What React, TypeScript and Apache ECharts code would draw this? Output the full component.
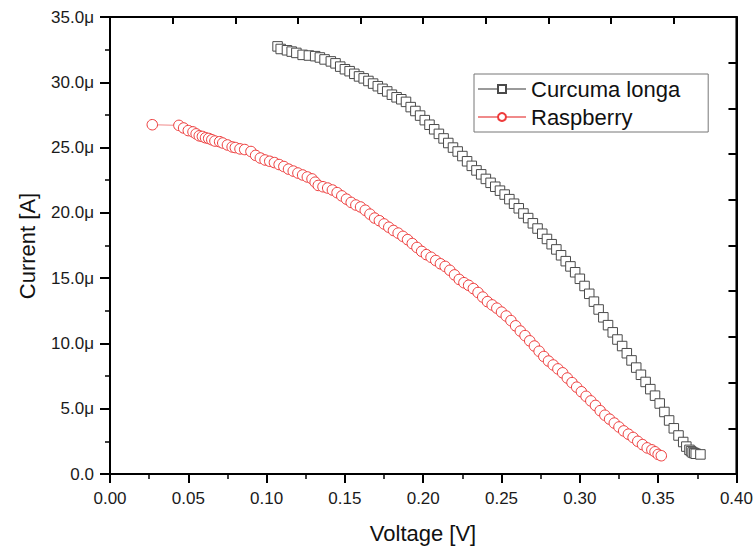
import React, { useEffect, useRef } from "react";
import * as echarts from "echarts";

// Curcuma longa: voltage [V] and current [µA]
const curcumaV = [
  0.107, 0.109, 0.113, 0.116, 0.119, 0.123, 0.127, 0.131, 0.134, 0.137, 0.141, 0.144, 0.147, 0.15,
  0.153, 0.156, 0.159, 0.162, 0.165, 0.168, 0.171, 0.174, 0.177, 0.18, 0.183, 0.186, 0.189, 0.192,
  0.195, 0.198, 0.201, 0.204, 0.207, 0.21, 0.213, 0.216, 0.219, 0.222, 0.225, 0.228, 0.231, 0.234,
  0.237, 0.24, 0.243, 0.246, 0.249, 0.252, 0.255, 0.258, 0.261, 0.264, 0.267, 0.27, 0.273, 0.276,
  0.279, 0.282, 0.285, 0.288, 0.291, 0.294, 0.297, 0.3, 0.303, 0.306, 0.309, 0.312, 0.315, 0.318,
  0.321, 0.324, 0.327, 0.33, 0.333, 0.336, 0.339, 0.342, 0.345, 0.348, 0.351, 0.354, 0.357, 0.36,
  0.363, 0.366, 0.368, 0.37, 0.371, 0.372, 0.373, 0.374, 0.377,
];
const curcumaI = [
  32.75, 32.55, 32.45, 32.35, 32.25, 32.1, 32.05, 32.0, 31.9, 31.75, 31.6, 31.45, 31.2, 31.0,
  30.85, 30.65, 30.45, 30.3, 30.1, 29.9, 29.7, 29.5, 29.3, 29.05, 28.85, 28.7, 28.5, 28.1,
  27.8, 27.45, 27.1, 26.75, 26.4, 26.05, 25.7, 25.35, 25.0, 24.7, 24.35, 23.95, 23.6, 23.25,
  22.95, 22.6, 22.3, 22.0, 21.7, 21.4, 21.05, 20.7, 20.35, 19.95, 19.6, 19.2, 18.8, 18.4,
  18.0, 17.6, 17.2, 16.75, 16.3, 15.9, 15.45, 14.95, 14.4, 13.8, 13.2, 12.6, 12.0, 11.4,
  10.85, 10.3, 9.8, 9.25, 8.7, 8.15, 7.6, 7.05, 6.5, 6.0, 5.4, 4.75, 4.1, 3.5,
  2.95, 2.45, 2.1, 1.85, 1.75, 1.65, 1.6, 1.55, 1.5,
];

// Raspberry: voltage [V] and current [µA]
const raspberryV = [
  0.027, 0.044, 0.047, 0.05, 0.053, 0.055, 0.057, 0.059, 0.061, 0.063, 0.065, 0.067, 0.07, 0.072,
  0.075, 0.078, 0.08, 0.083, 0.086, 0.09, 0.093, 0.096, 0.099, 0.102, 0.105, 0.108, 0.111, 0.114,
  0.117, 0.12, 0.123, 0.126, 0.129, 0.131, 0.133, 0.136, 0.139, 0.142, 0.145, 0.148, 0.151, 0.154,
  0.157, 0.16, 0.163, 0.166, 0.169, 0.172, 0.175, 0.178, 0.181, 0.184, 0.187, 0.19, 0.193, 0.196,
  0.199, 0.202, 0.205, 0.208, 0.211, 0.214, 0.217, 0.22, 0.223, 0.226, 0.229, 0.232, 0.235, 0.238,
  0.241, 0.244, 0.247, 0.25, 0.253, 0.256, 0.259, 0.262, 0.265, 0.268, 0.271, 0.274, 0.277, 0.28,
  0.283, 0.286, 0.289, 0.292, 0.295, 0.298, 0.301, 0.304, 0.307, 0.31, 0.313, 0.316, 0.319, 0.322,
  0.325, 0.328, 0.331, 0.334, 0.337, 0.34, 0.343, 0.346, 0.348, 0.35, 0.352,
];
const raspberryI = [
  26.75, 26.7, 26.5, 26.3, 26.2, 26.05, 25.9, 25.85, 25.75, 25.7, 25.6, 25.5, 25.45, 25.35,
  25.2, 25.05, 25.0, 24.9, 24.85, 24.7, 24.4, 24.2, 24.05, 23.95, 23.85, 23.7, 23.55, 23.35,
  23.2, 23.05, 22.9, 22.75, 22.6, 22.35, 22.1, 22.0, 21.9, 21.75, 21.55, 21.3, 21.05, 20.8,
  20.6, 20.45, 20.2, 19.9, 19.6, 19.4, 19.15, 18.9, 18.65, 18.45, 18.2, 17.95, 17.65, 17.35,
  17.05, 16.8, 16.6, 16.35, 16.1, 15.9, 15.6, 15.25, 14.9, 14.65, 14.45, 14.2, 13.9, 13.55,
  13.2, 12.95, 12.7, 12.4, 12.1, 11.75, 11.35, 10.95, 10.6, 10.2, 9.8, 9.4, 9.0, 8.65,
  8.35, 8.05, 7.75, 7.35, 7.0, 6.65, 6.3, 5.95, 5.6, 5.25, 4.85, 4.5, 4.2, 3.9,
  3.6, 3.3, 3.05, 2.8, 2.5, 2.25, 2.0, 1.85, 1.7, 1.5, 1.4,
];

const seriesNames = ["Curcuma longa", "Raspberry"];
const xTitle = "Voltage [V]";
const yTitle = "Current [A]";
const xTickLabels = (v: number) => v.toFixed(2);
const yTickLabels = (v: number) => (v === 0 ? "0.0" : v.toFixed(1) + "μ");
const FONT = "'Liberation Sans', Arial, sans-serif";

const noLine = () => ({ show: false });
const mkLine = () => ({ show: true, onZero: false, lineStyle: { color: "#000", width: 2 } });
const mkTick = (inside: boolean, length: number, width: number) => ({
  show: true,
  inside,
  length,
  lineStyle: { color: "#000", width },
});

export default function App() {
  const ref = useRef<HTMLDivElement>(null);
  useEffect(() => {
    document.body.style.margin = "0";
    if (!ref.current) return;
    const chart = echarts.init(ref.current, undefined, { renderer: "svg" });
    chart.setOption({
      animation: false,
      backgroundColor: "#fff",
      grid: { left: 110, right: 19, top: 17, bottom: 75, show: true, borderColor: "#000", borderWidth: 2, backgroundColor: "transparent" },
      graphic: [
        {
          type: "text",
          x: 423,
          y: 533,
          style: { text: xTitle, fontSize: 22, fontFamily: FONT, fill: "#111", align: "center", verticalAlign: "middle" },
        },
        {
          type: "text",
          x: 27,
          y: 246,
          rotation: Math.PI / 2,
          style: { text: yTitle, fontSize: 22, fontFamily: FONT, fill: "#111", align: "center", verticalAlign: "middle" },
        },
      ],
      legend: {
        orient: "vertical",
        left: 474,
        top: 74,
        padding: [4, 28, 4, 3],
        itemGap: 6,
        itemWidth: 48,
        itemHeight: 10,
        borderColor: "#777",
        borderWidth: 1,
        data: seriesNames,
        textStyle: { fontSize: 22, color: "#111", fontFamily: FONT },
      },
      xAxis: [
        {
          type: "value",
          position: "bottom",
          min: 0,
          max: 0.4,
          interval: 0.05,
          z: 10,
          axisLine: mkLine(),
          axisTick: mkTick(false, 9, 2),
          splitLine: { show: false },
          axisLabel: { margin: 16, fontSize: 17, color: "#1a1a1a", fontFamily: FONT, formatter: xTickLabels },
        },
        {
          type: "value",
          position: "top",
          min: 0,
          max: 0.4,
          interval: 0.04,
          z: 10,
          axisLine: mkLine(),
          axisTick: mkTick(true, 7, 2),
          axisLabel: { show: false },
          splitLine: { show: false },
        },
        {
          type: "value",
          position: "bottom",
          min: 0,
          max: 0.4,
          interval: 0.025,
          z: 10,
          axisLine: noLine(),
          axisTick: mkTick(false, 5, 1.5),
          axisLabel: { show: false },
          splitLine: { show: false },
        },
      ],
      yAxis: [
        {
          type: "value",
          position: "left",
          min: 0,
          max: 35,
          interval: 5,
          z: 10,
          axisLine: mkLine(),
          axisTick: mkTick(false, 10, 2),
          splitLine: { show: false },
          axisLabel: { margin: 16, fontSize: 17, color: "#1a1a1a", fontFamily: FONT, formatter: yTickLabels },
        },
        {
          type: "value",
          position: "right",
          min: 0,
          max: 35,
          interval: 3.5,
          z: 10,
          axisLine: mkLine(),
          axisTick: mkTick(true, 8, 2),
          axisLabel: { show: false },
          splitLine: { show: false },
        },
        {
          type: "value",
          position: "left",
          min: 0,
          max: 35,
          interval: 2.5,
          z: 10,
          axisLine: noLine(),
          axisTick: mkTick(false, 5, 1.5),
          axisLabel: { show: false },
          splitLine: { show: false },
        },
      ],
      series: [
        {
          name: seriesNames[0],
          type: "line",
          xAxisIndex: 0,
          yAxisIndex: 0,
          data: curcumaV.map((v, i) => [v, curcumaI[i]]),
          symbol: "rect",
          symbolSize: 9.5,
          showAllSymbol: true,
          lineStyle: { color: "#9a9a9a", width: 1 },
          itemStyle: { color: "#ffffff", borderColor: "#4a4a4a", borderWidth: 1 },
          emphasis: { disabled: true },
          z: 3,
        },
        {
          name: seriesNames[1],
          type: "line",
          xAxisIndex: 0,
          yAxisIndex: 0,
          data: raspberryV.map((v, i) => [v, raspberryI[i]]),
          symbol: "circle",
          symbolSize: 10.5,
          showAllSymbol: true,
          lineStyle: { color: "#f08a8a", width: 1 },
          itemStyle: { color: "#ffffff", borderColor: "#ee3b3b", borderWidth: 1 },
          emphasis: { disabled: true },
          z: 2,
        },
      ],
    });
    return () => chart.dispose();
  }, []);
  return <div ref={ref} style={{ width: 756, height: 549 }} />;
}
